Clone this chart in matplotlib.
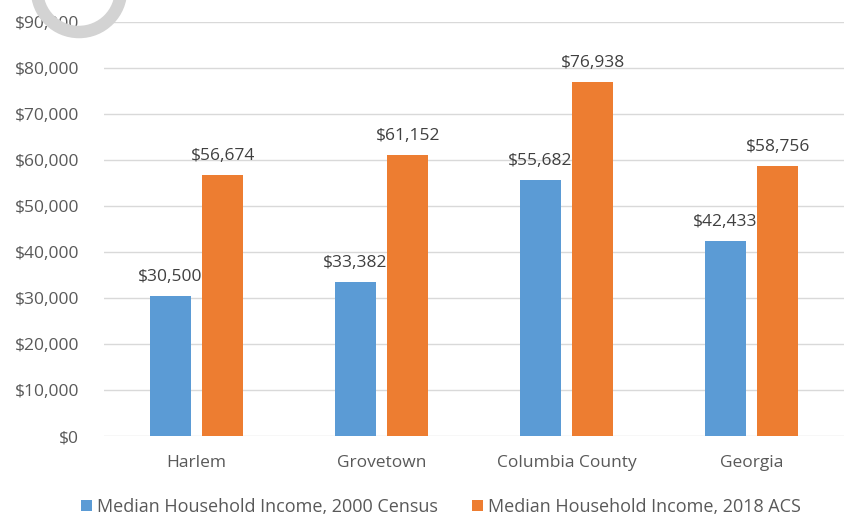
import numpy as np
import matplotlib
matplotlib.use('Agg')
import matplotlib.pyplot as plt
from matplotlib.patches import Arc

## Data
## ================================ ##
places         = ['Harlem', 'Grovetown', 'Columbia County', 'Georgia']
inc_2000       = [30500, 33382, 55682, 42433]
inc_2018       = [56674, 61152, 76938, 58756]
lab_2000       = 'Median Household Income, 2000 Census'
lab_2018       = 'Median Household Income, 2018 ACS'

BLUE, ORANGE   = '#5B9BD5', '#ED7D31'
TXT            = '#595959'
FS             = 12.5
plt.rcParams['font.family'] = ['Open Sans', 'DejaVu Sans']

fig            = plt.figure(figsize=(8.49, 5.16), dpi=100)
ax             = fig.add_axes([104/849, 1-436/516, 740/849, 414/516])

x              = np.arange(len(places))
w              = 0.222
off            = 0.142
b1 = ax.bar(x-off, inc_2000, w, color=BLUE, label=lab_2000, zorder=3)
b2 = ax.bar(x+off, inc_2018, w, color=ORANGE, label=lab_2018, zorder=3)

for bars in (b1, b2):
    for r in bars:
        v = r.get_height()
        ax.annotate('${:,.0f}'.format(v), (r.get_x()+r.get_width()/2, v),
                    xytext=(0, 8), textcoords='offset points', ha='center',
                    va='bottom', fontsize=FS, color='#404040')

ax.set_ylim(0, 90000)
ax.set_xlim(-0.5, len(places)-0.5)
ax.set_yticks(np.arange(0, 90001, 10000))
ax.set_yticklabels(['${:,.0f}'.format(v) for v in np.arange(0, 90001, 10000)])
ax.set_xticks(x)
ax.set_xticklabels(places)
ax.tick_params(axis='both', length=0, labelsize=FS, colors=TXT)
ax.tick_params(axis='y', pad=18)
ax.tick_params(axis='x', pad=14)
ax.grid(axis='y', color='#D9D9D9', linewidth=1, zorder=0)
for s in ax.spines.values():
    s.set_visible(False)

fig.legend(loc='center', bbox_to_anchor=(441/849, 1-507/516), ncol=2, frameon=False,
           fontsize=13, handlelength=0.62, handleheight=0.62, handletextpad=0.25,
           columnspacing=1.9, labelcolor=TXT)

# grey watermark arc at top-left
arc = Arc((79/849, 1+10/516), 84/849, 84/516, theta1=180, theta2=360,
          transform=fig.transFigure, color='#D3D3D3', linewidth=9, zorder=0)
fig.patches.append(arc)

fig.savefig('out.png', dpi=100)
